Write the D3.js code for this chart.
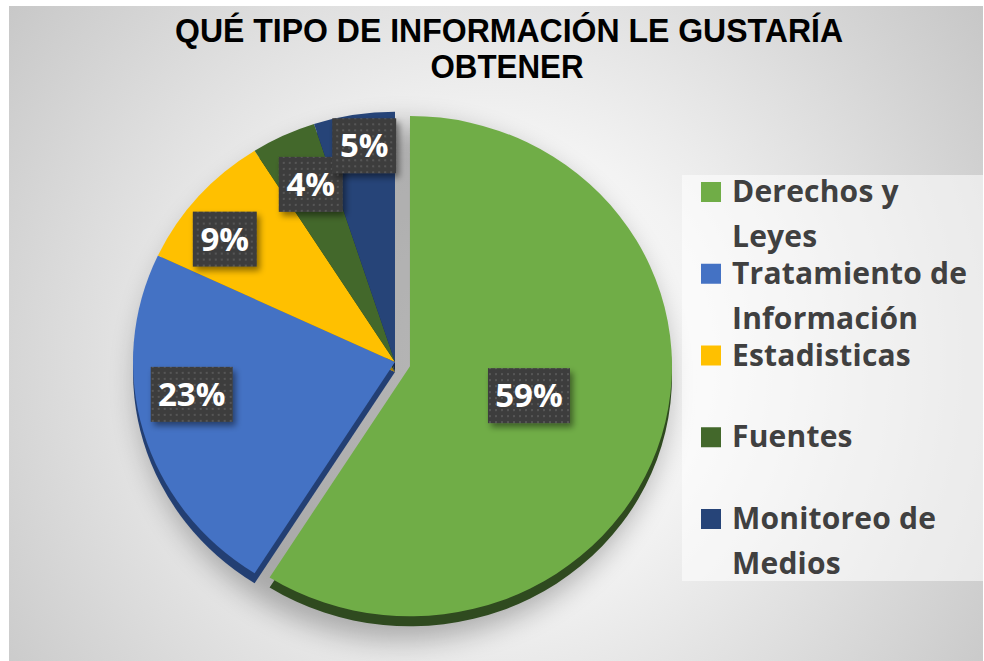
<!DOCTYPE html>
<html>
<head>
<meta charset="utf-8">
<script src="https://cdn.jsdelivr.net/npm/d3@7"></script>
<style>
  html, body { margin: 0; padding: 0; background: #ffffff; }
  svg { display: block; }
</style>
</head>
<body>
<div id="chart"></div>
<script>
// datos
var categories = ["Derechos y Leyes", "Tratamiento de Información", "Estadisticas", "Fuentes", "Monitoreo de Medios"];
var legendLines = [["Derechos y", "Leyes"], ["Tratamiento de", "Información"], ["Estadisticas"], ["Fuentes"], ["Monitoreo de", "Medios"]];
var values = [59, 23, 9, 4, 5];
var colors = ["#70AD47", "#4472C4", "#FFC000", "#43682B", "#264478"];
var sideColors = ["#2f4a1f", "#233f73", "#a67c00", "#273d19", "#15274a"];
var titleLines = ["QUÉ TIPO DE INFORMACIÓN LE GUSTARÍA", "OBTENER"];

// layout
var W = 984, H = 661;
var cx = 395, cy = 362, R = 262, sy = 0.955, depth = 10;
var explode = 15.6;
var labelFrac = [0.473, 0.8, 0.8, 0.8, 0.8];
var labelNudge = [[0, -4], [-2, -24], [-13, 9], [5, 3], [2, -19]];

var svg = d3.select("#chart").append("svg")
    .attr("width", W).attr("height", H);

var defs = svg.append("defs");

var bg = defs.append("radialGradient").attr("id", "bg")
    .attr("gradientUnits", "userSpaceOnUse")
    .attr("cx", 490).attr("cy", 360).attr("r", 640);
bg.append("stop").attr("offset", 0).attr("stop-color", "#ffffff");
bg.append("stop").attr("offset", 0.35).attr("stop-color", "#f3f3f3");
bg.append("stop").attr("offset", 1).attr("stop-color", "#c3c3c3");

var pat = defs.append("pattern").attr("id", "dots")
    .attr("patternUnits", "userSpaceOnUse")
    .attr("width", 6).attr("height", 6);
pat.append("rect").attr("width", 6).attr("height", 6).attr("fill", "#3d3d3d");
pat.append("rect").attr("x", 2).attr("y", 2).attr("width", 2).attr("height", 2).attr("fill", "#575757");

var sh = defs.append("filter").attr("id", "boxShadow")
    .attr("x", "-30%").attr("y", "-30%").attr("width", "160%").attr("height", "160%");
sh.append("feDropShadow").attr("dx", 3).attr("dy", 4).attr("stdDeviation", 3)
    .attr("flood-color", "#000").attr("flood-opacity", 0.45);

var blur = defs.append("filter").attr("id", "pieShadow")
    .attr("x", "-30%").attr("y", "-30%").attr("width", "160%").attr("height", "160%");
blur.append("feGaussianBlur").attr("stdDeviation", 14);

// fondo
svg.append("rect").attr("x", 9).attr("y", 6).attr("width", W - 10).attr("height", H - 6)
    .attr("fill", "url(#bg)");

// titulo
var titleFont = "'Liberation Sans Narrow', 'Liberation Sans', Arial, sans-serif";
svg.append("text").attr("x", 509).attr("y", 42)
    .attr("text-anchor", "middle")
    .attr("font-family", titleFont)
    .attr("font-weight", "bold").attr("font-size", 33).attr("fill", "#000")
    .attr("textLength", 668).attr("lengthAdjust", "spacingAndGlyphs")
    .text(titleLines[0]);
svg.append("text").attr("x", 507).attr("y", 78)
    .attr("text-anchor", "middle")
    .attr("font-family", titleFont)
    .attr("font-weight", "bold").attr("font-size", 33).attr("fill", "#000")
    .attr("textLength", 153).attr("lengthAdjust", "spacingAndGlyphs")
    .text(titleLines[1]);

// pastel
var pie = d3.pie().sort(null).value(function(d) { return d; })
    .startAngle(0).endAngle(2 * Math.PI);
var arcs = pie(values);
var arc = d3.arc().innerRadius(0).outerRadius(R);

function offsetOf(d, i) {
  if (i !== 0) return [0, 0];
  var a = (d.startAngle + d.endAngle) / 2;
  return [Math.sin(a) * explode, -Math.cos(a) * explode * sy];
}

svg.append("ellipse").attr("cx", cx + 8).attr("cy", cy + 20)
    .attr("rx", R + 4).attr("ry", R * sy + 8)
    .attr("fill", "#000").attr("opacity", 0.28)
    .attr("filter", "url(#pieShadow)");

var sides = svg.append("g");
sides.selectAll("path").data(arcs).enter().append("path")
    .attr("transform", function(d, i) {
      var o = offsetOf(d, i);
      return "translate(" + (cx + o[0]) + "," + (cy + o[1] + depth) + ") scale(1," + sy + ")";
    })
    .attr("d", arc)
    .attr("fill", function(d, i) { return sideColors[i]; });

var faces = svg.append("g");
faces.selectAll("path").data(arcs).enter().append("path")
    .attr("transform", function(d, i) {
      var o = offsetOf(d, i);
      return "translate(" + (cx + o[0]) + "," + (cy + o[1]) + ") scale(1," + sy + ")";
    })
    .attr("d", arc)
    .attr("fill", function(d, i) { return colors[i]; });

// etiquetas
var labels = svg.append("g");
arcs.forEach(function(d, i) {
  var o = offsetOf(d, i);
  var a = (d.startAngle + d.endAngle) / 2;
  var r = R * labelFrac[i];
  var x = cx + o[0] + Math.sin(a) * r + labelNudge[i][0];
  var y = cy + o[1] - Math.cos(a) * r * sy + labelNudge[i][1];
  var txt = values[i] + "%";
  var g = labels.append("g").attr("transform", "translate(" + x + "," + y + ")");
  var bw = txt.length > 2 ? 82 : 64;
  g.append("rect").attr("x", -bw / 2).attr("y", -27).attr("width", bw).attr("height", 55)
      .attr("fill", "url(#dots)").attr("filter", "url(#boxShadow)");
  g.append("text").attr("text-anchor", "middle").attr("y", 12)
      .attr("font-family", "'Open Sans', 'Noto Sans', sans-serif")
      .attr("font-weight", "bold").attr("font-size", 33).attr("fill", "#ffffff")
      .text(txt);
});

// leyenda
var legend = svg.append("g");
legend.append("rect").attr("x", 682).attr("y", 175).attr("width", W - 682).attr("height", 406)
    .attr("fill", "#ffffff").attr("opacity", 0.55);
var itemY = d3.scaleLinear().domain([0, categories.length - 1]).range([202, 529]);
categories.forEach(function(c, i) {
  var y0 = itemY(i);
  legend.append("rect").attr("x", 701).attr("y", y0 - 20).attr("width", 20).attr("height", 20)
      .attr("fill", colors[i]);
  legendLines[i].forEach(function(line, j) {
    legend.append("text").attr("x", 732).attr("y", y0 + j * 45)
        .attr("font-family", "'Open Sans', 'Noto Sans', sans-serif")
        .attr("font-weight", "bold").attr("font-size", 30).attr("fill", "#404040")
        .attr("letter-spacing", 0.2)
        .text(line);
  });
});
</script>
</body>
</html>
